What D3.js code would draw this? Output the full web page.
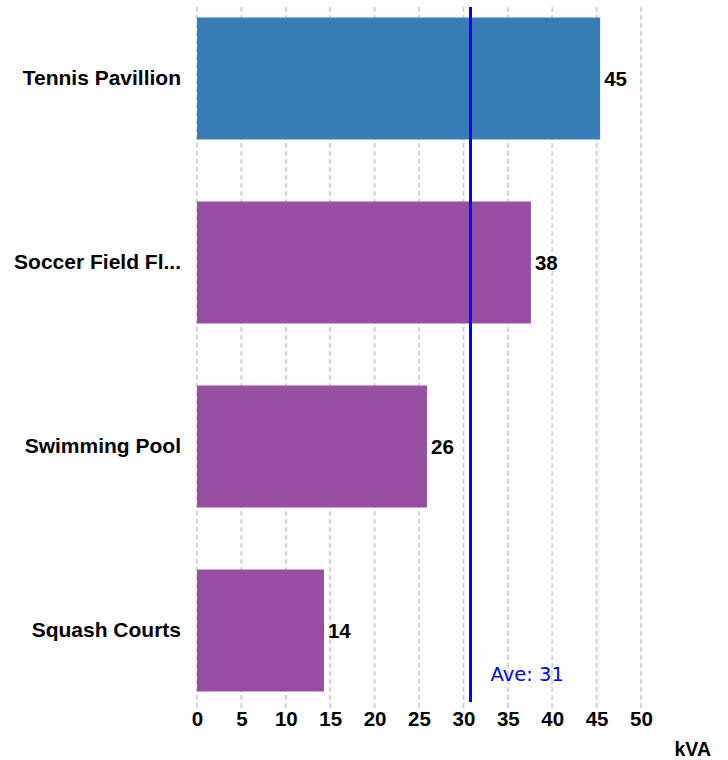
<!DOCTYPE html>
<html>
<head>
<meta charset="utf-8">
<script src="https://cdn.jsdelivr.net/npm/d3@7"></script>
<style>
  body { margin: 0; background: #fff; }
  svg text { font-family: "Liberation Sans", Arial, sans-serif; }
</style>
</head>
<body>
<div id="chart"></div>
<script>
// chart data
const categories = ['Tennis Pavillion', 'Soccer Field Fl...', 'Swimming Pool', 'Squash Courts'];
const values = [45.4, 37.6, 25.9, 14.3];
const valueLabels = ['45', '38', '26', '14'];
const barColors = ['#377eb8', '#984ea3', '#984ea3', '#984ea3'];
const xTicks = [0, 5, 10, 15, 20, 25, 30, 35, 40, 45, 50];
const average = 30.8;
const averageLabel = 'Ave: 31';
const unitLabel = 'kVA';

const width = 728, height = 760;
const margin = { top: 7, right: 87, bottom: 58, left: 197 };
const innerW = width - margin.left - margin.right;
const innerH = height - margin.top - margin.bottom;

const svg = d3.select('#chart').append('svg')
  .attr('width', width)
  .attr('height', height);

const g = svg.append('g').attr('transform', `translate(${margin.left},${margin.top})`);

const x = d3.scaleLinear().domain([0, 50]).range([0, innerW]);
const y = d3.scaleBand()
  .domain(categories)
  .range([0, innerH])
  .paddingInner(0.337)
  .paddingOuter(0.057);

// dashed grid
g.selectAll('.grid')
  .data(xTicks)
  .enter()
  .append('line')
  .attr('class', 'grid')
  .attr('x1', d => x(d))
  .attr('x2', d => x(d))
  .attr('y1', 0)
  .attr('y2', innerH + 6)
  .attr('stroke', '#d3d3d3')
  .attr('stroke-width', 2)
  .attr('stroke-dasharray', '5,3');

// bars
g.selectAll('.bar')
  .data(categories)
  .enter()
  .append('rect')
  .attr('class', 'bar')
  .attr('x', x(0))
  .attr('y', d => y(d))
  .attr('width', (d, i) => x(values[i]) - x(0))
  .attr('height', y.bandwidth())
  .attr('fill', (d, i) => barColors[i]);

// value labels
g.selectAll('.val')
  .data(categories)
  .enter()
  .append('text')
  .attr('class', 'val')
  .attr('x', (d, i) => x(values[i]) + 4)
  .attr('y', d => y(d) + y.bandwidth() / 2)
  .attr('dy', '0.35em')
  .style('font-size', '20.5px')
  .style('font-weight', 'bold')
  .text((d, i) => valueLabels[i]);

// category labels
g.selectAll('.cat')
  .data(categories)
  .enter()
  .append('text')
  .attr('class', 'cat')
  .attr('x', -16)
  .attr('y', d => y(d) + y.bandwidth() / 2)
  .attr('dy', '0.33em')
  .attr('text-anchor', 'end')
  .style('font-size', '21px')
  .style('font-weight', 'bold')
  .text(d => d);

// x axis
const xAxis = d3.axisBottom(x).tickValues(xTicks).tickSize(0).tickPadding(9);
const axisG = g.append('g')
  .attr('transform', `translate(0,${innerH})`)
  .call(xAxis);
axisG.select('.domain').remove();
axisG.selectAll('text')
  .style('font-size', '20.5px')
  .style('font-weight', 'bold')
  .attr('fill', '#000');

// average line
g.append('line')
  .attr('x1', x(average))
  .attr('x2', x(average))
  .attr('y1', 0)
  .attr('y2', innerH)
  .attr('stroke', '#0000ee')
  .attr('stroke-width', 3);

g.append('text')
  .attr('x', x(average) + 20)
  .attr('y', innerH - 21)
  .attr('fill', '#0000ee')
  .style('font-family', '"DejaVu Sans", Verdana, sans-serif')
  .style('font-size', '19.5px')
  .text(averageLabel);

// unit label
svg.append('text')
  .attr('x', 711)
  .attr('y', 756)
  .attr('text-anchor', 'end')
  .style('font-size', '19.5px')
  .style('font-weight', 'bold')
  .text(unitLabel);
</script>
</body>
</html>
